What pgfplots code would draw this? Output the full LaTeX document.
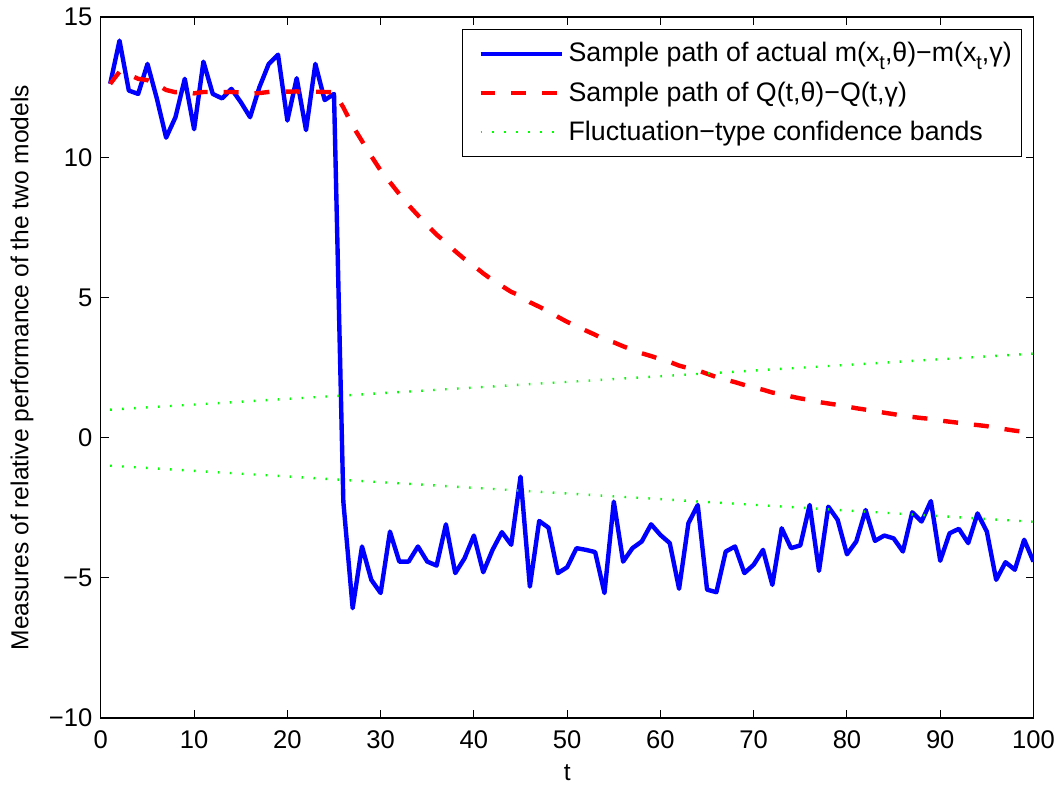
\documentclass[border=0pt]{standalone}
\usepackage{pgfplots}
\pgfplotsset{compat=1.18}
\usepackage{fontspec}
\setmainfont{Liberation Sans}

\definecolor{mblue}{rgb}{0,0,1}
\definecolor{mred}{rgb}{1,0,0}
\definecolor{mgreen}{rgb}{0,1,0}

\newcommand{\sub}[1]{\raisebox{-0.5ex}{\fontsize{10}{11}\selectfont #1}}

\begin{document}
\fontsize{12.3}{14}\selectfont
\begin{tikzpicture}
\begin{axis}[
  name=ax,
  scale only axis,
  width=467pt, height=351pt,
  xmin=0, xmax=100, ymin=-10, ymax=15,
  xtick={0,10,...,100},
  ytick={-10,-5,0,5,10,15},
  yticklabels={−10,−5,0,5,10,15},
  /pgf/number format/assume math mode=true,
  tick align=inside,
  tick pos=both,
  major tick length=4pt,
  axis line style={line width=0.6pt},
  every tick/.style={black,line width=0.5pt},
  tick label style={font=\fontsize{12.8}{14}\selectfont},
  xticklabel style={yshift=-2pt},
  xlabel={t},
  ylabel={Measures of relative performance of the two models},
  every axis x label/.style={at={(axis description cs:0.5,-0.078)},anchor=center},
  every axis y label/.style={at={(axis description cs:-0.0846,0.5)},rotate=90,anchor=center},
  legend cell align=left,
  legend style={at={(rel axis cs:0.988,0.983)}, anchor=north east,
    draw=black, line width=0.6pt, inner xsep=3pt, inner ysep=4.5pt,
    row sep=4pt, font=\fontsize{13.4}{15}\selectfont},
  legend image code/.code={\path (0pt,0pt); \draw[#1] (5pt,0pt) -- (46pt,0pt);},
]
\addplot[mblue, line width=2.2pt, line join=round] coordinates {
(1,12.62)(2,14.16)(3,12.38)(4,12.26)(5,13.33)(6,12.1)(7,10.7)(8,11.43)(9,12.8)(10,11.0)
(11,13.41)(12,12.26)(13,12.1)(14,12.44)(15,11.97)(16,11.43)(17,12.5)(18,13.33)(19,13.66)(20,11.31)
(21,12.82)(22,10.97)(23,13.33)(24,12.04)(25,12.26)(26,-2.28)(27,-6.08)(28,-3.88)(29,-5.07)(30,-5.54)
(31,-3.35)(32,-4.42)(33,-4.42)(34,-3.88)(35,-4.42)(36,-4.56)(37,-3.09)(38,-4.83)(39,-4.30)(40,-3.49)
(41,-4.80)(42,-4.0)(43,-3.37)(44,-3.82)(45,-1.39)(46,-5.31)(47,-2.97)(48,-3.21)(49,-4.83)(50,-4.62)
(51,-3.94)(52,-4.0)(53,-4.08)(54,-5.54)(55,-2.28)(56,-4.42)(57,-3.94)(58,-3.70)(59,-3.09)(60,-3.47)
(61,-3.76)(62,-5.39)(63,-3.05)(64,-2.40)(65,-5.42)(66,-5.51)(67,-4.06)(68,-3.88)(69,-4.83)(70,-4.53)
(71,-4.0)(72,-5.25)(73,-3.23)(74,-3.94)(75,-3.84)(76,-2.40)(77,-4.75)(78,-2.46)(79,-2.93)(80,-4.16)
(81,-3.70)(82,-2.58)(83,-3.68)(84,-3.49)(85,-3.59)(86,-4.06)(87,-2.66)(88,-2.99)(89,-2.26)(90,-4.39)
(91,-3.41)(92,-3.25)(93,-3.76)(94,-2.70)(95,-3.35)(96,-5.07)(97,-4.44)(98,-4.71)(99,-3.64)(100,-4.42)
};
\addlegendentry{Sample path of actual m(x\sub{t},θ)−m(x\sub{t},γ)}
\addplot[mred, line width=2.2pt, dash pattern=on 7.5pt off 8pt] coordinates {
(1,12.62)(2,13.05)(3,12.95)(4,12.8)(5,12.75)(6,12.6)(7,12.4)(8,12.32)(9,12.34)(10,12.28)
(11,12.33)(12,12.33)(13,12.32)(14,12.33)(15,12.31)(16,12.27)(17,12.29)(18,12.33)(19,12.37)(20,12.34)
(21,12.35)(22,12.31)(23,12.34)(24,12.33)(25,12.32)(26,11.78)(27,11.12)(28,10.58)(29,10.04)(30,9.53)
(31,9.11)(32,8.69)(33,8.29)(34,7.93)(35,7.58)(36,7.24)(37,6.96)(38,6.65)(39,6.37)(40,6.13)
(41,5.86)(42,5.62)(43,5.41)(44,5.20)(45,5.06)(46,4.83)(47,4.67)(48,4.50)(49,4.31)(50,4.13)
(51,3.98)(52,3.82)(53,3.67)(54,3.50)(55,3.40)(56,3.26)(57,3.13)(58,3.01)(59,2.91)(60,2.80)
(61,2.70)(62,2.57)(63,2.48)(64,2.40)(65,2.28)(66,2.16)(67,2.07)(68,1.98)(69,1.88)(70,1.79)
(71,1.71)(72,1.61)(73,1.55)(74,1.47)(75,1.40)(76,1.35)(77,1.27)(78,1.22)(79,1.17)(80,1.11)
(81,1.05)(82,1.00)(83,0.95)(84,0.89)(85,0.84)(86,0.78)(87,0.74)(88,0.70)(89,0.67)(90,0.61)
(91,0.57)(92,0.53)(93,0.48)(94,0.45)(95,0.41)(96,0.35)(97,0.30)(98,0.25)(99,0.21)(100,0.16)
};
\addlegendentry{Sample path of Q(t,θ)−Q(t,γ)}
\addplot[mgreen, line width=1.2pt, dash pattern=on 0.8pt off 5.2pt] coordinates {(1,1)(100,3)};
\addlegendentry{Fluctuation−type confidence bands}
\addplot[mgreen, line width=1.2pt, dash pattern=on 0.8pt off 5.2pt, forget plot] coordinates {(1,-1)(100,-3)};
\end{axis}
\path ([xshift=-50.5pt,yshift=-35pt]ax.south west) rectangle ([xshift=14pt,yshift=7.5pt]ax.north east);
\end{tikzpicture}
\end{document}
